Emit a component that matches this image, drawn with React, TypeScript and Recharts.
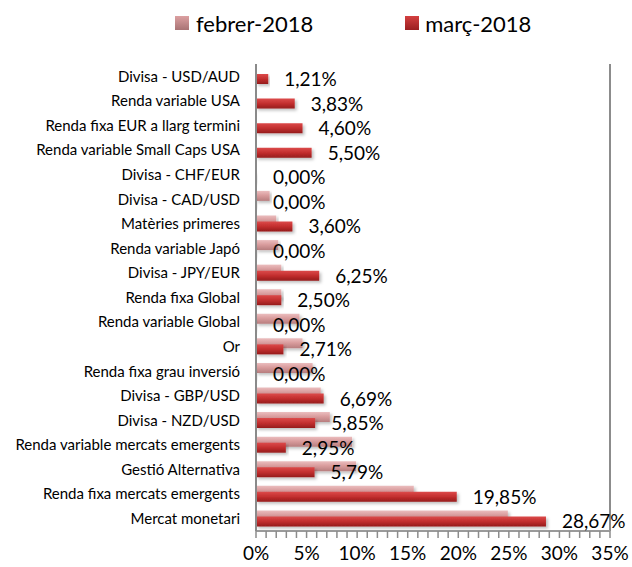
import { BarChart, Bar, XAxis, YAxis, CartesianGrid, Legend, LabelList } from 'recharts'

const CATEGORIES = [
  'Divisa - USD/AUD',
  'Renda variable USA',
  'Renda fixa EUR a llarg termini',
  'Renda variable Small Caps USA',
  'Divisa - CHF/EUR',
  'Divisa - CAD/USD',
  'Matèries primeres',
  'Renda variable Japó',
  'Divisa - JPY/EUR',
  'Renda fixa Global',
  'Renda variable Global',
  'Or',
  'Renda fixa grau inversió',
  'Divisa - GBP/USD',
  'Divisa - NZD/USD',
  'Renda variable mercats emergents',
  'Gestió Alternativa',
  'Renda fixa mercats emergents',
  'Mercat monetari',
]

const FEBRER = [0, 0, 0, 0, 0, 1.35, 2.0, 2.2, 2.5, 2.5, 4.3, 4.6, 5.6, 6.4, 7.3, 9.5, 9.9, 15.6, 24.9]
const MARC = [1.21, 3.83, 4.6, 5.5, 0, 0, 3.6, 0, 6.25, 2.5, 0, 2.71, 0, 6.69, 5.85, 2.95, 5.79, 19.85, 28.67]

const SERIES_NAMES = ['febrer-2018', 'març-2018']
const MAJOR_TICKS = [0, 5, 10, 15, 20, 25, 30, 35]
const MINOR_TICKS = Array.from({ length: 36 }, (_, i) => i)

const FONT = 'Lato, sans-serif'

const data = CATEGORIES.map((name, i) => ({ name, febrer: FEBRER[i], marc: MARC[i] }))

const fmtPct = (v: number) => `${v.toFixed(2).replace('.', ',')}%`

// eslint-disable-next-line @typescript-eslint/no-explicit-any
const renderXTick = (props: any) => {
  const { x, y, payload } = props
  const major = payload.value % 5 === 0
  return (
    <g>
      <line x1={x} x2={x} y1={y} y2={y + 7} stroke="#8c8c8c" strokeWidth={1.5} />
      {major && (
        <text x={x} y={y + 29} textAnchor="middle" fontFamily={FONT} fontSize={19} fill="#000">
          {`${payload.value}%`}
        </text>
      )}
    </g>
  )
}

// eslint-disable-next-line @typescript-eslint/no-explicit-any
const renderValueLabel = (props: any) => {
  const { x, y, width, height, value } = props
  if (value == null) return null
  return (
    <text
      x={x + (width || 0) + 16}
      y={y + height / 2 + 7}
      fontFamily={FONT}
      fontSize={19}
      fill="#000"
    >
      {fmtPct(Number(value))}
    </text>
  )
}

const renderLegend = () => (
  <div style={{ display: 'flex', paddingLeft: 175, fontFamily: FONT, fontSize: 22, height: 42, alignItems: 'center', paddingTop: 2 }}>
    <span style={{ width: 14, height: 14, background: 'linear-gradient(#dca0a1, #a87374)', marginRight: 7 }} />
    <span style={{ marginRight: 92 }}>{SERIES_NAMES[0]}</span>
    <span style={{ width: 14, height: 14, background: 'linear-gradient(#d44040, #9a1f20)', marginRight: 6 }} />
    <span>{SERIES_NAMES[1]}</span>
  </div>
)

export default function App() {
  return (
    <div style={{ position: 'absolute', left: 0, top: 0, width: 632, height: 567, background: '#fff' }}>
      <BarChart
        width={632}
        height={567}
        data={data}
        layout="vertical"
        margin={{ top: 20, right: 22, bottom: 0, left: 0 }}
        barSize={10}
        barGap={-4}
      >
        <defs>
          <linearGradient id="gradFeb" x1="0" y1="0" x2="0" y2="1">
            <stop offset="0%" stopColor="#ebbdbe" />
            <stop offset="45%" stopColor="#d99c9d" />
            <stop offset="100%" stopColor="#b77d7e" />
          </linearGradient>
          <linearGradient id="gradMar" x1="0" y1="0" x2="0" y2="1">
            <stop offset="0%" stopColor="#dc4a4a" />
            <stop offset="50%" stopColor="#c22e2e" />
            <stop offset="100%" stopColor="#951c1c" />
          </linearGradient>
          <filter id="barShadow" x="-5%" y="-30%" width="115%" height="180%">
            <feDropShadow dx="2" dy="2" stdDeviation="1.5" floodColor="#000" floodOpacity="0.25" />
          </filter>
        </defs>
        <Legend verticalAlign="top" content={renderLegend} wrapperStyle={{ left: 0, top: 0, width: 632 }} />
        <CartesianGrid xAxisId="grid" horizontal={false} stroke="#8c8c8c" strokeWidth={2} />
        <XAxis
          type="number"
          domain={[0, 35]}
          ticks={MINOR_TICKS}
          interval={0}
          tick={renderXTick}
          tickLine={false}
          tickSize={0}
          tickMargin={0}
          height={36}
          axisLine={{ stroke: '#9a9a9a', strokeWidth: 2 }}
        />
        <XAxis xAxisId="grid" type="number" domain={[0, 35]} ticks={MAJOR_TICKS} hide />
        <YAxis
          type="category"
          dataKey="name"
          width={256}
          interval={0}
          tickLine={false}
          tickSize={0}
          tickMargin={16}
          tick={{ fontFamily: FONT, fontSize: 15, fill: '#000' }}
          axisLine={{ stroke: '#8a8a8a', strokeWidth: 2 }}
        />
        <Bar
          dataKey="febrer"
          name={SERIES_NAMES[0]}
          fill="url(#gradFeb)"
          filter="url(#barShadow)"
          isAnimationActive={false}
        />
        <Bar
          dataKey="marc"
          name={SERIES_NAMES[1]}
          fill="url(#gradMar)"
          filter="url(#barShadow)"
          minPointSize={1}
          isAnimationActive={false}
        >
          <LabelList dataKey="marc" content={renderValueLabel} />
        </Bar>
      </BarChart>
    </div>
  )
}
